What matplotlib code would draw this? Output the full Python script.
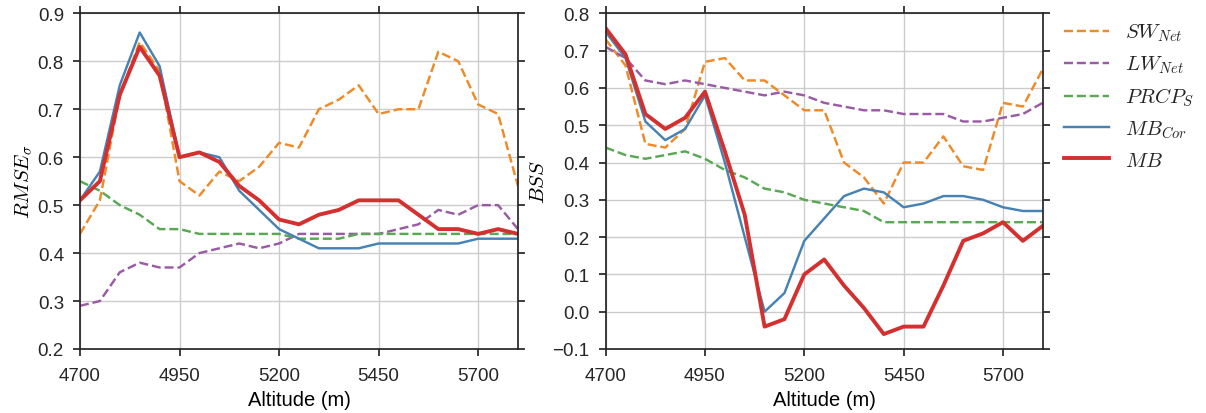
import matplotlib
matplotlib.use("Agg")
import matplotlib.pyplot as plt
import numpy as np

# altitude bands (m)
altitude = np.arange(4700, 5801, 50)

# RMSE (normalised) per altitude band
rmse_sw = [0.44, 0.51, 0.73, 0.84, 0.78, 0.55, 0.52, 0.57, 0.55, 0.58, 0.63, 0.62,
           0.70, 0.72, 0.75, 0.69, 0.70, 0.70, 0.82, 0.80, 0.71, 0.69, 0.54]
rmse_lw = [0.29, 0.30, 0.36, 0.38, 0.37, 0.37, 0.40, 0.41, 0.42, 0.41, 0.42, 0.44,
           0.44, 0.44, 0.44, 0.44, 0.45, 0.46, 0.49, 0.48, 0.50, 0.50, 0.45]
rmse_prcp = [0.55, 0.53, 0.50, 0.48, 0.45, 0.45, 0.44, 0.44, 0.44, 0.44, 0.44, 0.43,
             0.43, 0.43, 0.44, 0.44, 0.44, 0.44, 0.44, 0.44, 0.44, 0.44, 0.44]
rmse_mbcor = [0.51, 0.57, 0.75, 0.86, 0.79, 0.60, 0.61, 0.60, 0.53, 0.49, 0.45, 0.43,
              0.41, 0.41, 0.41, 0.42, 0.42, 0.42, 0.42, 0.42, 0.43, 0.43, 0.43]
rmse_mb = [0.51, 0.55, 0.73, 0.83, 0.77, 0.60, 0.61, 0.59, 0.54, 0.51, 0.47, 0.46,
           0.48, 0.49, 0.51, 0.51, 0.51, 0.48, 0.45, 0.45, 0.44, 0.45, 0.44]

# Brier skill score per altitude band
bss_sw = [0.73, 0.66, 0.45, 0.44, 0.49, 0.67, 0.68, 0.62, 0.62, 0.58, 0.54, 0.54,
          0.40, 0.36, 0.29, 0.40, 0.40, 0.47, 0.39, 0.38, 0.56, 0.55, 0.65]
bss_lw = [0.71, 0.68, 0.62, 0.61, 0.62, 0.61, 0.60, 0.59, 0.58, 0.59, 0.58, 0.56,
          0.55, 0.54, 0.54, 0.53, 0.53, 0.53, 0.51, 0.51, 0.52, 0.53, 0.56]
bss_prcp = [0.44, 0.42, 0.41, 0.42, 0.43, 0.41, 0.38, 0.36, 0.33, 0.32, 0.30, 0.29,
            0.28, 0.27, 0.24, 0.24, 0.24, 0.24, 0.24, 0.24, 0.24, 0.24, 0.24]
bss_mbcor = [0.75, 0.68, 0.51, 0.46, 0.49, 0.58, 0.40, 0.20, 0.00, 0.05, 0.19, 0.25,
             0.31, 0.33, 0.32, 0.28, 0.29, 0.31, 0.31, 0.30, 0.28, 0.27, 0.27]
bss_mb = [0.76, 0.69, 0.53, 0.49, 0.52, 0.59, 0.43, 0.26, -0.04, -0.02, 0.10, 0.14,
          0.07, 0.01, -0.06, -0.04, -0.04, 0.07, 0.19, 0.21, 0.24, 0.19, 0.23]

labels = [r"$SW_{Net}$", r"$LW_{Net}$", r"$PRCP_S$", r"$MB_{Cor}$", r"$MB$"]
colors = ["#ee8a27", "#9a5ba5", "#58a854", "#4682b4", "#d3302f"]
styles = ["--", "--", "--", "-", "-"]
widths = [1.75, 1.75, 1.75, 1.75, 2.8]

plt.rcParams["font.family"] = ["Liberation Sans", "DejaVu Sans"]
plt.rcParams["mathtext.fontset"] = "cm"
plt.rcParams["axes.edgecolor"] = "#262626"
plt.rcParams["axes.linewidth"] = 1.25
plt.rcParams["text.color"] = "#262626"
plt.rcParams["xtick.color"] = "#262626"
plt.rcParams["ytick.color"] = "#262626"

fig = plt.figure(figsize=(12.06, 4.14), dpi=100)
ax1 = fig.add_axes([0.0663, 0.1546, 0.3632, 0.8108])
ax2 = fig.add_axes([0.5022, 0.1546, 0.3624, 0.8108])


def draw(ax, series, ylim, ylabel):
    lines = []
    for vals, lab, c, ls, lw in zip(series, labels, colors, styles, widths):
        ln, = ax.plot(altitude, vals, ls, color=c, lw=lw, label=lab)
        lines.append(ln)
    ax.set_xlim(4700, 5800)
    ax.set_ylim(*ylim)
    ax.set_xticks([4700, 4950, 5200, 5450, 5700])
    ax.grid(True, color="#cccccc", lw=1)
    ax.set_axisbelow(True)
    ax.tick_params(direction="out", length=5, width=1.25, labelsize=13.5,
                   top=True, right=True, pad=6.5)
    ax.tick_params(axis="x", pad=8)
    ax.set_xlabel("Altitude (m)", fontsize=14.5, labelpad=4)
    ax.set_ylabel(ylabel, fontsize=15, labelpad=3)
    return lines


draw(ax1, [rmse_sw, rmse_lw, rmse_prcp, rmse_mbcor, rmse_mb], (0.2, 0.9), r"$RMSE_{\sigma}$")
ax1.set_yticks(np.arange(0.2, 0.91, 0.1))
lines = draw(ax2, [bss_sw, bss_lw, bss_prcp, bss_mbcor, bss_mb], (-0.1, 0.8), r"$BSS$")
ax2.set_yticks(np.arange(-0.1, 0.81, 0.1))

fig.legend(handles=lines, loc="upper left", bbox_to_anchor=(0.8667, 0.99),
           frameon=False, fontsize=15, handlelength=2.16, labelspacing=0.5,
           handletextpad=0.77)

fig.savefig("out.png", dpi=100)
